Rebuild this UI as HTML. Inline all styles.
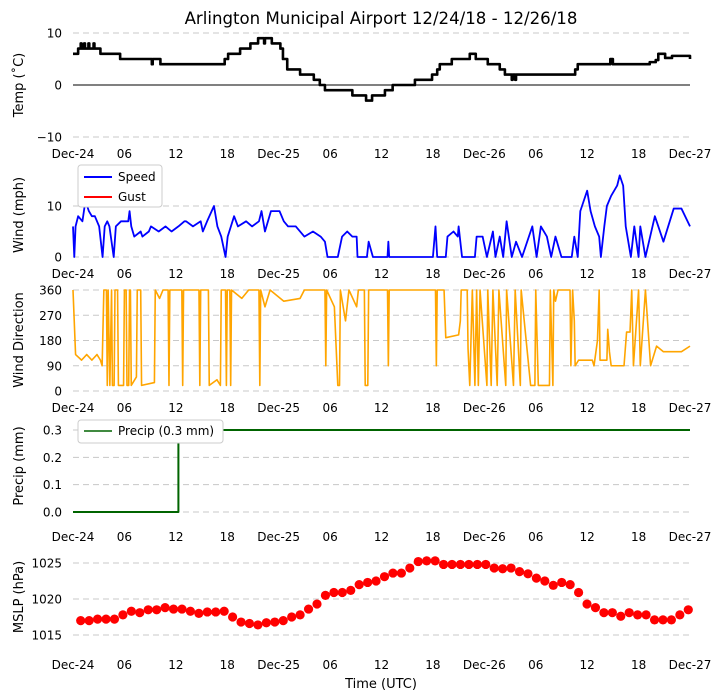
<!DOCTYPE html>
<html><head><meta charset="utf-8"><style>
body{margin:0;background:#fff;}
svg{display:block;font-family:"DejaVu Sans","Liberation Sans",sans-serif;}
</style></head><body>
<svg id="chart" width="722" height="700" viewBox="0 0 722 700" xmlns="http://www.w3.org/2000/svg">
<text x="381" y="24" font-size="16.6" text-anchor="middle">Arlington Municipal Airport 12/24/18 - 12/26/18</text>
<g id="g"></g>
</svg>
<script>
const xTickHours=[0,6,12,18,24,30,36,42,48,54,60,66,72];
const xTickLabels=["Dec-24","06","12","18","Dec-25","06","12","18","Dec-26","06","12","18","Dec-27"];
const tempHours=[0,0.2,0.6,0.9,1.0,1.3,1.4,1.8,1.9,2.4,2.5,3.1,3.2,5.5,9.2,9.3,10.2,17.7,18.1,19.5,20.7,21.6,22.3,22.4,23.2,24.2,24.5,25.0,26.5,28.1,28.8,29.4,32.6,34.2,34.9,36.4,37.3,39.9,41.9,42.5,42.8,44.2,46.3,47.0,48.4,49.8,50.4,51.2,51.3,51.6,51.7,58.6,58.9,62.7,63.0,63.1,67.3,68.0,68.3,69.1,69.9,71.0,72];
const tempValues=[6,6,7,8,7,8,7,8,7,8,7,7,6,5,4,5,4,5,6,7,8,9,8,9,8,7,5,3,2,1,0,-1,-2,-3,-2,-1,0,1,2,3,4,5,6,5,4,3,2,1,2,1,2,3,4,5,4,4,4.4,4.8,6,5.2,5.6,5.6,5];
const windHours=[0,0.15,0.3,0.6,1.1,1.45,1.85,2.2,2.55,3.05,3.45,3.7,4.0,4.25,4.75,5.0,5.6,6.45,6.6,6.8,7.15,7.9,8.1,8.85,9.1,10.0,10.8,11.5,12.3,13.0,13.2,14.0,14.9,15.15,15.65,16.45,16.85,17.3,17.8,18.05,18.8,19.25,20.2,20.9,21.7,22.0,22.4,23.1,24.1,24.6,25.1,26.0,27.0,28.0,28.9,29.4,29.7,30.9,31.4,32.0,32.6,33.1,33.2,34.3,34.5,35.0,36.7,36.8,36.9,42.0,42.3,42.5,43.5,43.7,44.4,44.9,45.0,45.4,46.9,47.1,47.8,48.3,49.0,49.3,49.8,50.2,50.6,51.2,51.7,52.4,53.6,54.1,54.6,55.3,55.8,56.3,57.0,58.2,58.5,58.9,59.2,59.4,60.0,60.4,60.9,61.4,61.6,62.0,62.3,62.8,63.5,63.8,64.2,64.5,65.1,65.5,66.0,66.2,66.8,67.9,68.9,70.1,71.0,72];
const windValues=[6,0,6,8,7,11,9,8,8,6,0,6,7,6,0,6,7,7,9,6,4,5,4,5,6,5,6,5,6,7,7,6,7,5,7,10,6,4,0,4,8,6,7,6,7,9,5,9,9,7,6,6,4,5,4,3,0,0,4,5,4,4,0,0,3,0,0,3,0,0,6,0,0,4,5,4,6,0,0,4,4,0,5,0,4,0,7,0,3,0,6,0,6,4,0,4,0,0,4,0,9,10,13,9,6,4,0,6,10,12,14,16,14,6,0,6,0,6,0,8,3,9.5,9.5,6];
const dirHours=[0,0.3,1,1.6,2.2,2.8,3.2,3.4,3.6,3.9,4.0,4.1,4.3,4.5,4.6,4.8,4.9,5.2,5.3,5.9,6.0,6.2,6.3,6.5,6.6,6.7,6.8,7.4,7.5,7.9,8.0,9.5,9.6,10.1,10.5,11.1,11.2,11.3,12.7,12.8,12.9,14.7,14.8,14.9,15.8,15.9,16.8,17.2,17.3,17.8,17.9,18.0,18.3,18.4,18.5,19.7,20.5,21.7,21.8,21.9,22.4,22.7,23,24.6,26.5,27,29.4,29.5,29.6,30.5,30.9,31.1,31.2,31.8,32.2,33.1,33.3,34.0,34.1,34.4,34.5,36.7,36.8,36.9,42.3,42.4,42.5,43.3,43.5,45,45.2,45.3,46.0,46.1,46.3,46.6,46.9,47.1,47.3,47.5,48.3,48.4,48.8,49.0,49.5,49.7,50.5,50.6,51.4,51.6,52.2,52.3,53.4,53.9,54.0,54.3,55.6,55.7,56.0,56.1,56.3,56.6,58.0,58.1,58.3,58.5,58.6,59.0,60.6,60.8,61.2,61.4,61.5,62.3,62.4,62.6,62.8,64.3,64.6,65.0,65.2,65.4,66.0,66.2,66.8,67.4,68.1,68.9,71,72];
const dirValues=[360,130,110,130,110,130,110,90,360,360,20,360,20,360,20,20,360,360,20,20,360,360,20,20,360,360,20,50,360,360,20,30,360,330,360,360,20,360,360,20,360,360,20,360,360,20,40,20,360,360,20,360,360,20,360,330,360,360,20,360,300,330,360,320,330,360,360,90,360,300,20,20,360,250,360,300,360,360,20,20,360,360,90,360,360,90,360,360,190,200,250,360,360,150,20,360,20,360,20,360,20,360,20,360,20,360,20,360,20,360,20,360,20,20,360,20,20,360,20,360,320,360,360,90,360,250,90,110,110,90,180,360,110,110,220,140,90,90,210,210,360,90,360,90,360,90,160,140,140,160];
const precipHours=[0,12.3,12.3,72];
const precipValues=[0,0,0.3,0.3];
const mslpValues=[1017.0,1017.0,1017.2,1017.2,1017.2,1017.8,1018.3,1018.1,1018.5,1018.5,1018.8,1018.6,1018.6,1018.3,1018.0,1018.2,1018.2,1018.3,1017.5,1016.8,1016.6,1016.4,1016.7,1016.8,1017.0,1017.5,1017.8,1018.6,1019.3,1020.5,1020.9,1020.9,1021.2,1022.0,1022.3,1022.5,1023.1,1023.6,1023.6,1024.3,1025.2,1025.3,1025.3,1024.8,1024.8,1024.8,1024.8,1024.8,1024.8,1024.3,1024.2,1024.3,1023.8,1023.5,1022.9,1022.5,1021.9,1022.3,1022.0,1020.9,1019.3,1018.8,1018.1,1018.1,1017.6,1018.1,1017.8,1017.8,1017.1,1017.1,1017.1,1017.8,1018.5];

const NS="http://www.w3.org/2000/svg";
const g=document.getElementById('g');
const X0=73,X1=690;
const xs=h=>X0+(X1-X0)*h/72;
function el(t,a,p){const e=document.createElementNS(NS,t);for(const k in a)e.setAttribute(k,a[k]);(p||g).appendChild(e);return e;}
function txt(s,a){const e=el('text',a);e.textContent=s;return e;}

const panels=[
 {name:'temp',label:'Temp (\u02DAC)',vAt:[[-10,137],[10,33]],ticks:[-10,0,10],tickText:["\u221210","0","10"],xl:158,labelY:85},
 {name:'wind',label:'Wind (mph)',vAt:[[0,257],[10,206]],ticks:[0,10],tickText:["0","10"],xl:278,labelY:215},
 {name:'direction',label:'Wind Direction',vAt:[[0,391],[360,290]],ticks:[0,90,180,270,360],tickText:["0","90","180","270","360"],xl:412,labelY:340},
 {name:'precip',label:'Precip (mm)',vAt:[[0,512],[0.3,430]],ticks:[0,0.1,0.2,0.3],tickText:["0.0","0.1","0.2","0.3"],xl:541,labelY:466},
 {name:'mslp',label:'MSLP (hPa)',vAt:[[1015,635],[1025,563]],ticks:[1015,1020,1025],tickText:["1015","1020","1025"],xl:669,labelY:597}
];
panels.forEach(p=>{
 const [a0,y0]=p.vAt[0],[a1,y1]=p.vAt[1];
 p.ys=v=>y0+(v-a0)*(y1-y0)/(a1-a0);
 p.ticks.forEach((t,i)=>{
  const y=p.ys(t);
  const solid=(p.name==='temp'&&t===0);
  const ln=el('line',{x1:X0,x2:X1,y1:y,y2:y,stroke:solid?'#000':'#c8c8c8','stroke-width':1,'stroke-dasharray':solid?'none':'6,4'});
  
  
  const tl=txt(p.tickText[i],{x:62,y:y+4.5,'font-size':12,'text-anchor':'end'});
  
  
 });
 const yl=txt(p.label,{x:0,y:0,'font-size':13,'text-anchor':'middle',transform:`translate(23,${p.labelY}) rotate(-90)`});
 
 
 xTickHours.forEach((h,i)=>{
  const t=txt(xTickLabels[i],{x:xs(h),y:p.xl,'font-size':12,'text-anchor':'middle'});
  
  
 });
});
function line(hours,vals,p,color,w,name,step){
 let d='';
 hours.forEach((h,i)=>{
  const x=xs(h),y=p.ys(vals[i]);
  if(i===0)d+=`M${x},${y}`;
  else if(step)d+=`H${x}V${y}`;
  else d+=`L${x},${y}`;
 });
 const e=el('path',{d:d,fill:'none',stroke:color,'stroke-width':w,'stroke-linejoin':'round'});
 
 
}
line(tempHours,tempValues,panels[0],'#000',2.6,'temp-line',true);
line(windHours,windValues,panels[1],'#0000ff',1.8,'wind-speed-line',false);
line(dirHours,dirValues,panels[2],'#ffa500',1.6,'wind-direction-line',false);
line(precipHours,precipValues,panels[3],'#006400',2,'precip-line',false);
mslpValues.forEach((v,i)=>{
 const h=0.9+i*(71.8-0.9)/(mslpValues.length-1);
 const c=el('circle',{cx:xs(h),cy:panels[4].ys(v),r:4.6,fill:'#ff0000'});
 
 
});
const lg=el('g',{});


el('rect',{x:78,y:165,width:84,height:42,rx:3,fill:'#fff',stroke:'#ccc'},lg);
el('line',{x1:84,x2:112,y1:177,y2:177,stroke:'#0000ff','stroke-width':2},lg);
el('line',{x1:84,x2:112,y1:197,y2:197,stroke:'#ff0000','stroke-width':2},lg);
const t1=el('text',{x:118,y:181,'font-size':12},lg);t1.textContent='Speed';
const t2=el('text',{x:118,y:201,'font-size':12},lg);t2.textContent='Gust';
const lg2=el('g',{});


el('rect',{x:78,y:420,width:145,height:23,rx:3,fill:'#fff',stroke:'#ccc'},lg2);
el('line',{x1:84,x2:112,y1:431,y2:431,stroke:'#006400','stroke-width':1.5},lg2);
const t3=el('text',{x:118,y:435,'font-size':12},lg2);t3.textContent='Precip (0.3 mm)';
const xt=txt('Time (UTC)',{x:381,y:688,'font-size':13,'text-anchor':'middle'});


</script>
</body></html>
